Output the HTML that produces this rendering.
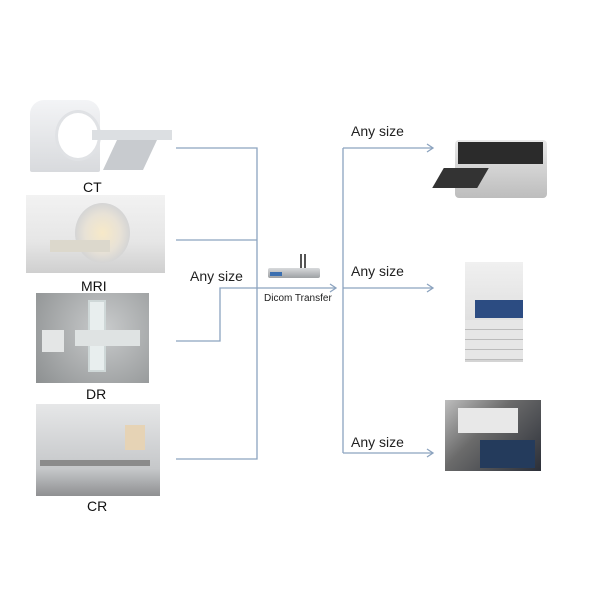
<!DOCTYPE html>
<html><head><style>
body{margin:0;width:600px;height:600px;background:#fff;position:relative;overflow:hidden;font-family:"Liberation Sans",sans-serif}
.a{position:absolute}
.lbl{position:absolute;font-size:14px;color:#111}
.any{position:absolute;font-size:14px;color:#222}
</style></head><body>
<!-- CT -->
<div class="a" style="left:30px;top:100px;width:70px;height:72px;background:linear-gradient(#f3f4f6,#d8dadd);border-radius:14px 14px 2px 2px"></div>
<div class="a" style="left:55px;top:110px;width:40px;height:45px;border-radius:50%;background:#fff;border:3px solid #e0e2e5"></div>
<div class="a" style="left:92px;top:130px;width:80px;height:10px;background:#dcdfe2"></div>
<div class="a" style="left:110px;top:140px;width:40px;height:30px;background:#c8cbcf;transform:skewX(-25deg)"></div>
<div class="lbl" style="left:83px;top:179px">CT</div>
<!-- MRI -->
<div class="a" style="left:26px;top:195px;width:139px;height:78px;background:linear-gradient(#f2f2f2,#e6e6e6 60%,#cfcfcf)"></div>
<div class="a" style="left:75px;top:203px;width:55px;height:60px;border-radius:50%;background:radial-gradient(#f7e9c8,#e8e2d6 45%,#d5d5d5 70%)"></div>
<div class="a" style="left:50px;top:240px;width:60px;height:12px;background:#dcd8cc"></div>
<div class="lbl" style="left:81px;top:278px">MRI</div>
<!-- DR -->
<div class="a" style="left:36px;top:293px;width:113px;height:90px;background:radial-gradient(circle at 60% 40%,#c9cbcc,#8d9091)"></div>
<div class="a" style="left:88px;top:300px;width:14px;height:68px;background:#e8eeee;border:2px solid #cfd8d8"></div>
<div class="a" style="left:42px;top:330px;width:22px;height:22px;background:#e4e6e6"></div>
<div class="a" style="left:75px;top:330px;width:65px;height:16px;background:#dfe3e3"></div>
<div class="lbl" style="left:86px;top:386px">DR</div>
<!-- CR -->
<div class="a" style="left:36px;top:404px;width:124px;height:92px;background:linear-gradient(#e6e7e8,#c6c8ca 70%,#8f9092)"></div>
<div class="a" style="left:125px;top:425px;width:20px;height:25px;background:#e6d3b5"></div>
<div class="a" style="left:40px;top:460px;width:110px;height:6px;background:#8b8b8b"></div>
<div class="lbl" style="left:87px;top:498px">CR</div>
<!-- lines -->
<svg class="a" style="left:0;top:0" width="600" height="600">
<g stroke="#8ca3bf" stroke-width="1.3" fill="none">
<path d="M176 148H257V459H176M176 240H257M176 341H220V288H336M343 148V453M343 148H433M343 288H433M343 453H433"/>
<path d="M427 144L433 148L427 152M427 284L433 288L427 292M427 449L433 453L427 457M330 284L336 288L330 292"/>
</g></svg>
<!-- router -->
<div class="a" style="left:300px;top:254px;width:2px;height:16px;background:#555"></div>
<div class="a" style="left:304px;top:254px;width:2px;height:16px;background:#555"></div>
<div class="a" style="left:268px;top:268px;width:52px;height:10px;background:linear-gradient(#d8dadc,#9ea1a4);border-radius:2px"></div>
<div class="a" style="left:270px;top:272px;width:12px;height:4px;background:#3b6fb0"></div>
<div class="a" style="left:264px;top:293px;font-size:10px;color:#222">Dicom Transfer</div>
<div class="any" style="left:190px;top:268px">Any size</div>
<div class="any" style="left:351px;top:123px">Any size</div>
<div class="any" style="left:351px;top:263px">Any size</div>
<div class="any" style="left:351px;top:434px">Any size</div>
<!-- printer 1 -->
<div class="a" style="left:455px;top:140px;width:92px;height:58px;background:linear-gradient(#e8e8e8,#bdbdbd);border-radius:4px"></div>
<div class="a" style="left:458px;top:142px;width:85px;height:22px;background:#2b2b2b"></div>
<div class="a" style="left:438px;top:168px;width:45px;height:20px;background:#333;transform:skewX(-30deg)"></div>
<!-- printer 2 -->
<div class="a" style="left:465px;top:262px;width:58px;height:100px;background:linear-gradient(#f0f0f0,#d4d4d4)"></div>
<div class="a" style="left:475px;top:300px;width:48px;height:18px;background:#2c4c82"></div>
<div class="a" style="left:465px;top:320px;width:58px;height:40px;background:repeating-linear-gradient(#e6e6e6 0 9px,#bbb 9px 10px)"></div>
<!-- printer 3 -->
<div class="a" style="left:445px;top:400px;width:96px;height:71px;background:linear-gradient(135deg,#bdbdbd,#6b6b6b 40%,#2b2f38)"></div>
<div class="a" style="left:458px;top:408px;width:60px;height:25px;background:#e8e8e8"></div>
<div class="a" style="left:480px;top:440px;width:55px;height:28px;background:#243b5c"></div>
</body></html>
